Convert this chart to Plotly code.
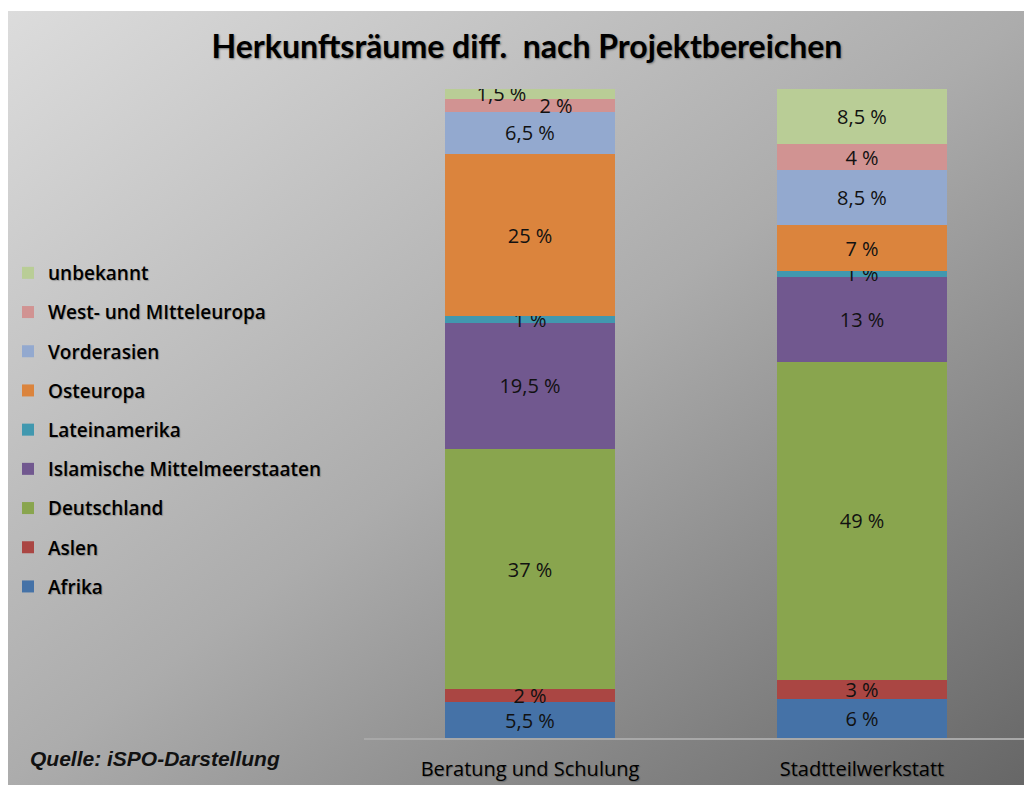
import base64
import plotly.graph_objects as go

categories = ["Beratung und Schulung", "Stadtteilwerkstatt"]
legend_labels = ["Afrika", "Aslen", "Deutschland", "Islamische Mittelmeerstaaten",
                 "Lateinamerika", "Osteuropa", "Vorderasien", "West- und MItteleuropa", "unbekannt"]
afrika = [5.5, 6]
asien = [2, 3]
deutschland = [37, 49]
islamische = [19.5, 13]
lateinamerika = [1, 1]
osteuropa = [25, 7]
vorderasien = [6.5, 8.5]
west_mittel = [2, 4]
unbekannt = [1.5, 8.5]
series_values = [afrika, asien, deutschland, islamische, lateinamerika,
                 osteuropa, vorderasien, west_mittel, unbekannt]
colors = ["#4572A7", "#AA4643", "#89A54E", "#71588F", "#4198AF",
          "#DB843D", "#93A9CF", "#D19392", "#B9CD96"]

# The page places the figure 8px from the top-left corner of the window.
OFF = 8
W, H = 1032, 785
plot_left, plot_right = 364 - OFF, 1028 - OFF
plot_top, plot_bottom = 89 - OFF, 738 - OFF
ph = plot_bottom - plot_top

NB = "\u00a0"
label_pad = {("unbekannt", 0): ("", NB * 11), ("West- und MItteleuropa", 0): (NB * 10, "")}

FONT = "Open Sans, Lato, sans-serif"
SHADOW = "1px 1px 1px rgba(0,0,0,0.25)"

fig = go.Figure()
n = len(legend_labels)
for i, (lab, vals, col) in enumerate(zip(legend_labels, series_values, colors)):
    txt = []
    for j, v in enumerate(vals):
        pre, post = label_pad.get((lab, j), ("", ""))
        txt.append(pre + f"{v:g}".replace(".", ",") + " %" + post)
    fig.add_trace(go.Bar(
        x=categories, y=vals, name=lab, legendgroup=lab, legendrank=n - i,
        marker=dict(color=col, line=dict(width=0)),
        text=txt, textposition="inside", insidetextanchor="middle",
        textangle=0, constraintext="none",
        textfont=dict(color="#111111", size=20, family=FONT),
        hoverinfo="skip",
    ))

svg = f'''<svg xmlns="http://www.w3.org/2000/svg" width="{W}" height="{H}" preserveAspectRatio="none" viewBox="0 0 {W} {H}">
<defs><linearGradient id="g" x1="0" y1="0" x2="1" y2="1">
<stop offset="0" stop-color="#dcdcdc"/><stop offset="0.5" stop-color="#acacac"/><stop offset="1" stop-color="#666666"/>
</linearGradient></defs><rect x="0" y="0" width="{W}" height="{H}" fill="url(#g)"/></svg>'''
src = "data:image/svg+xml;base64," + base64.b64encode(svg.encode()).decode()

bg_left, bg_top = 7 - OFF, 11 - OFF
bg_right, bg_bottom = 1032 - OFF, 785 - OFF
fig.add_layout_image(dict(
    source=src, xref="paper", yref="paper",
    x=bg_left / W, y=(plot_bottom - bg_top) / ph,
    sizex=(bg_right - bg_left) / W, sizey=(bg_bottom - bg_top) / ph,
    xanchor="left", yanchor="top", sizing="stretch", layer="below",
))

fig.add_annotation(
    text="<b><i>Quelle: iSPO-Darstellung</i></b>", xref="paper", yref="paper",
    x=(28 - OFF) / W, y=(plot_bottom - (758 - OFF)) / ph, xanchor="left", yanchor="middle",
    showarrow=False, font=dict(family="Liberation Sans, Arial, sans-serif", size=21, color="#111111"),
)

fig.update_layout(
    width=W, height=H,
    margin=dict(l=0, r=0, t=plot_top, b=H - plot_bottom, pad=0),
    paper_bgcolor="white", plot_bgcolor="rgba(0,0,0,0)",
    barmode="stack", bargap=0.488,
    title=dict(text="<b>Herkunftsräume diff.  nach Projektbereichen</b>",
               x=(527 - OFF) / W, xanchor="center", y=1 - (47 - OFF) / H, yanchor="middle",
               font=dict(family="Lato, Open Sans, sans-serif", size=32, color="#000000",
                         shadow="1px 1px 2px #777777")),
    uniformtext=dict(minsize=20, mode="show"),
    showlegend=True,
    legend=dict(traceorder="grouped", tracegroupgap=11.5,
                x=0.0, xanchor="left", y=(plot_bottom - (254 - OFF)) / ph, yanchor="top",
                bgcolor="rgba(0,0,0,0)", itemwidth=30,
                font=dict(family=FONT, size=19, weight=600, color="#000000", shadow=SHADOW)),
    xaxis=dict(domain=[plot_left / W, plot_right / W], showline=True, linecolor="#a8a8a8",
               linewidth=2, ticks="", showgrid=False, zeroline=False,
               tickfont=dict(family=FONT, size=20, color="#000000", shadow=SHADOW),
               ticklabelstandoff=12),
    yaxis=dict(range=[0, 100], visible=False, showgrid=False, zeroline=False),
    hovermode=False,
)

fig.write_html("out.html")
